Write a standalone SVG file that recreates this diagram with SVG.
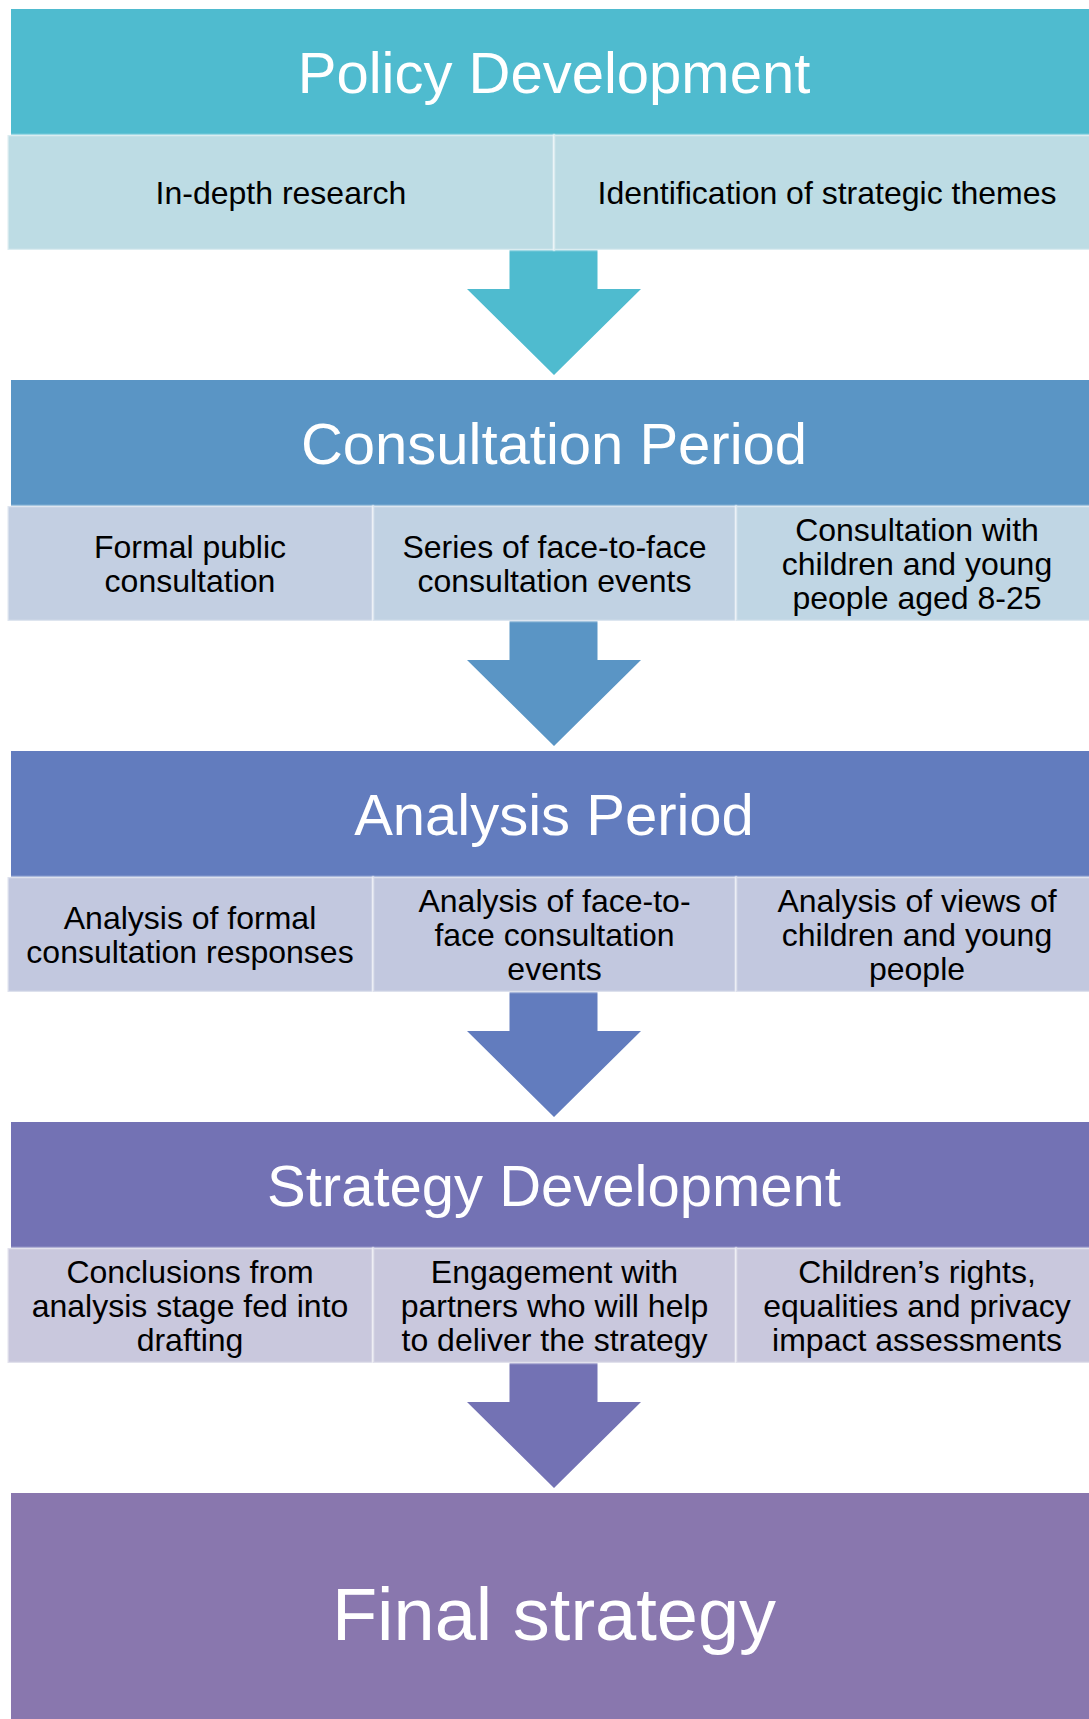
<svg xmlns="http://www.w3.org/2000/svg" width="1089" height="1719" viewBox="0 0 1089 1719">
<style>
.title{font-family:"Liberation Sans",Arial,sans-serif;font-size:58px;fill:#fff;text-anchor:middle}
.final{font-family:"Liberation Sans",Arial,sans-serif;font-size:74px;fill:#fff;text-anchor:middle}
.sub{font-family:"Liberation Sans",Arial,sans-serif;font-size:32px;fill:#000;text-anchor:middle}
.box{stroke:#fff;stroke-opacity:0.45;stroke-width:2.5}
.arrow{stroke:#fff;stroke-width:4;paint-order:stroke;stroke-linejoin:miter}
</style>
<rect width="1089" height="1719" fill="#fff"/>
<g id="connectors">
<path class="arrow" fill="#4FBBCF" d="M509.5,247 H597.5 V289 H641 L554,375 L467,289 H509.5 Z"/>
<path class="arrow" fill="#5A95C5" d="M509.5,618 H597.5 V660 H641 L554,746 L467,660 H509.5 Z"/>
<path class="arrow" fill="#627CBE" d="M509.5,989 H597.5 V1031 H641 L554,1117 L467,1031 H509.5 Z"/>
<path class="arrow" fill="#7372B4" d="M509.5,1360 H597.5 V1402 H641 L554,1488 L467,1402 H509.5 Z"/>
</g>
<g id="policy-development">
<rect x="11" y="9" width="1086" height="126" fill="#4FBBCF"/>
<text class="title" x="554" y="93">Policy Development</text>
</g>
<g id="policy-sub-1">
<rect class="box" x="7.5" y="135" width="546.5" height="115" fill="#BDDCE4"/>
<text class="sub" x="281" y="204">In-depth research</text>
</g>
<g id="policy-sub-2">
<rect class="box" x="554" y="135" width="546" height="115" fill="#BDDCE4"/>
<text class="sub" x="827" y="204">Identification of strategic themes</text>
</g>
<g id="consultation-period">
<rect x="11" y="380" width="1086" height="126" fill="#5A95C5"/>
<text class="title" x="554" y="464">Consultation Period</text>
</g>
<g id="consultation-sub-1">
<rect class="box" x="7.5" y="506" width="365.5" height="115" fill="#C3CFE2"/>
<text class="sub" x="190" y="558">Formal public</text>
<text class="sub" x="190" y="592">consultation</text>
</g>
<g id="consultation-sub-2">
<rect class="box" x="373" y="506" width="363" height="115" fill="#C1D2E3"/>
<text class="sub" x="554.5" y="558">Series of face-to-face</text>
<text class="sub" x="554.5" y="592">consultation events</text>
</g>
<g id="consultation-sub-3">
<rect class="box" x="736" y="506" width="364" height="115" fill="#C0D6E4"/>
<text class="sub" x="917" y="541">Consultation with</text>
<text class="sub" x="917" y="575">children and young</text>
<text class="sub" x="917" y="609">people aged 8-25</text>
</g>
<g id="analysis-period">
<rect x="11" y="751" width="1086" height="126" fill="#627CBE"/>
<text class="title" x="554" y="835">Analysis Period</text>
</g>
<g id="analysis-sub-1">
<rect class="box" x="7.5" y="877" width="365.5" height="115" fill="#C2C8DF"/>
<text class="sub" x="190" y="929">Analysis of formal</text>
<text class="sub" x="190" y="963">consultation responses</text>
</g>
<g id="analysis-sub-2">
<rect class="box" x="373" y="877" width="363" height="115" fill="#C2C8DF"/>
<text class="sub" x="554.5" y="912">Analysis of face-to-</text>
<text class="sub" x="554.5" y="946">face consultation</text>
<text class="sub" x="554.5" y="980">events</text>
</g>
<g id="analysis-sub-3">
<rect class="box" x="736" y="877" width="364" height="115" fill="#C2C8DF"/>
<text class="sub" x="917" y="912">Analysis of views of</text>
<text class="sub" x="917" y="946">children and young</text>
<text class="sub" x="917" y="980">people</text>
</g>
<g id="strategy-development">
<rect x="11" y="1122" width="1086" height="126" fill="#7372B4"/>
<text class="title" x="554" y="1206">Strategy Development</text>
</g>
<g id="strategy-sub-1">
<rect class="box" x="7.5" y="1248" width="365.5" height="115" fill="#C9C8DD"/>
<text class="sub" x="190" y="1283">Conclusions from</text>
<text class="sub" x="190" y="1317">analysis stage fed into</text>
<text class="sub" x="190" y="1351">drafting</text>
</g>
<g id="strategy-sub-2">
<rect class="box" x="373" y="1248" width="363" height="115" fill="#C9C8DD"/>
<text class="sub" x="554.5" y="1283">Engagement with</text>
<text class="sub" x="554.5" y="1317">partners who will help</text>
<text class="sub" x="554.5" y="1351">to deliver the strategy</text>
</g>
<g id="strategy-sub-3">
<rect class="box" x="736" y="1248" width="364" height="115" fill="#C9C8DD"/>
<text class="sub" x="917" y="1283">Children’s rights,</text>
<text class="sub" x="917" y="1317">equalities and privacy</text>
<text class="sub" x="917" y="1351">impact assessments</text>
</g>
<g id="final-strategy">
<rect x="11" y="1493" width="1086" height="240" fill="#8977AE"/>
<text class="final" x="554" y="1640">Final strategy</text>
</g>
</svg>
